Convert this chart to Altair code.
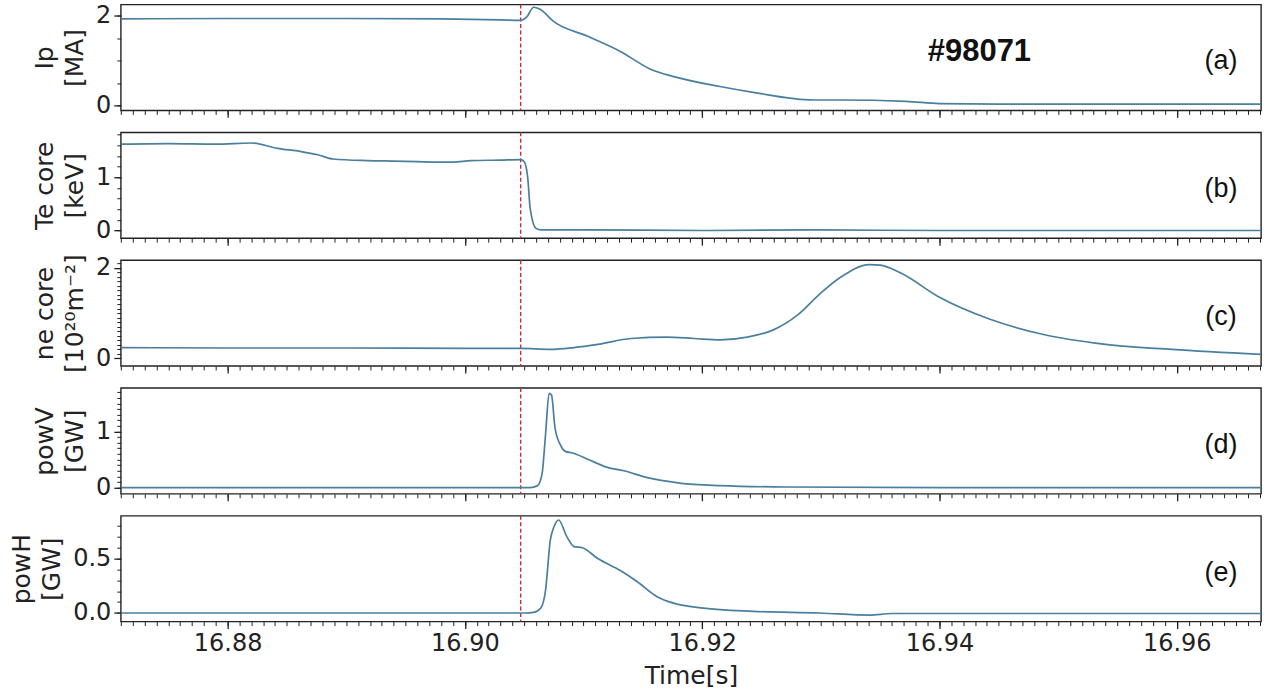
import altair as alt
import pandas as pd

# ---------------- data ----------------
t_domain = [16.871, 16.9671]
disruption_t = [16.9047]

x_major = [16.88, 16.90, 16.92, 16.94, 16.96]
x_minor = [round(16.871 + 0.001 * i, 3) for i in range(97)]

# (a) plasma current Ip [MA]
ip_t = [16.871, 16.880, 16.890, 16.898, 16.903, 16.9047, 16.9052, 16.9058, 16.9063,
        16.9075, 16.9103, 16.9131, 16.9156, 16.9176, 16.9215, 16.9243, 16.9294,
        16.9316, 16.9372, 16.9400, 16.9450, 16.9550, 16.9671]
ip_v = [1.93, 1.94, 1.94, 1.93, 1.91, 1.90, 1.97, 2.19, 2.15,
        1.87, 1.55, 1.21, 0.82, 0.65, 0.43, 0.30, 0.13,
        0.13, 0.10, 0.05, 0.04, 0.04, 0.04]

# (b) core electron temperature Te [keV]
te_t = [16.871, 16.875, 16.879, 16.882, 16.8842, 16.8862, 16.8876, 16.8889, 16.8918,
        16.8940, 16.8960, 16.8990, 16.9005, 16.9030, 16.9047, 16.9050, 16.9053,
        16.9055, 16.9060, 16.9064, 16.9100, 16.9200, 16.9300, 16.9400, 16.9500,
        16.9600, 16.9671]
te_v = [1.62, 1.63, 1.62, 1.64, 1.54, 1.48, 1.42, 1.34, 1.31,
        1.30, 1.29, 1.28, 1.31, 1.32, 1.33, 1.29, 0.98,
        0.42, 0.04, 0.01, 0.01, 0.00, 0.01, 0.00, 0.00,
        0.00, 0.00]

# (c) core electron density ne [1e20 m^-2]
ne_t = [16.871, 16.880, 16.890, 16.900, 16.9047, 16.9072, 16.9092, 16.9112, 16.9140,
        16.9170, 16.9193, 16.9215, 16.9238, 16.9260, 16.9280, 16.9299, 16.9316,
        16.9341, 16.9350, 16.9367, 16.9400, 16.9442, 16.9484, 16.9540, 16.9596,
        16.9671]
ne_v = [0.24, 0.23, 0.23, 0.22, 0.22, 0.20, 0.24, 0.31, 0.44,
        0.47, 0.44, 0.41, 0.47, 0.63, 0.95, 1.42, 1.78,
        2.07, 2.06, 1.89, 1.35, 0.87, 0.55, 0.31, 0.20,
        0.09]

# (d) vertical radiated power powV [GW]
pv_t = [16.871, 16.890, 16.9055, 16.9061, 16.9065, 16.9068, 16.9071, 16.9073, 16.9076,
        16.9081, 16.9085, 16.9090, 16.9103, 16.9120, 16.9134, 16.9153, 16.9181,
        16.9215, 16.9271, 16.9400, 16.9671]
pv_v = [0.0, 0.0, 0.0, 0.03, 0.24, 0.95, 1.68, 1.65, 1.06,
        0.74, 0.64, 0.62, 0.51, 0.36, 0.30, 0.18, 0.08,
        0.035, 0.01, 0.0, 0.0]

# (e) horizontal radiated power powH [GW]
ph_t = [16.871, 16.890, 16.9050, 16.9058, 16.9064, 16.9068, 16.9072, 16.9075, 16.9079,
        16.9086, 16.9092, 16.9099, 16.9112, 16.9131, 16.9145, 16.9162, 16.9176,
        16.9201, 16.9243, 16.9299, 16.9341, 16.9360, 16.9450, 16.9671]
ph_v = [0.0, 0.0, 0.0, 0.005, 0.045, 0.21, 0.67, 0.79, 0.855,
        0.70, 0.61, 0.60, 0.50, 0.39, 0.29, 0.15, 0.09,
        0.045, 0.015, 0.0, -0.02, -0.005, -0.005, -0.005]

shot_label = ["#98071"]

# ---------------- styling ----------------
LINE = "#4a7f9e"
RED = "#c8283c"
AX = "#222222"
PANEL_W = 1142
PANEL_H = 106
FONT = "DejaVu Sans"


def panel(t, v, ydomain, ymajor, yminor, yfmt, ytitle, tag, bottom, shot=False):
    df = pd.DataFrame({"t": t, "v": v})
    xs = alt.Scale(domain=t_domain, nice=False, zero=False)
    ys = alt.Scale(domain=ydomain, nice=False, zero=False)

    x_axis_major = alt.Axis(
        values=x_major, format=".2f", labels=bottom, orient="bottom",
        title="Time[s]" if bottom else "", tickSize=7, tickWidth=1.3,
        tickColor=AX, domain=False, grid=False, labelFontSize=24,
        labelFont=FONT, labelColor=AX, labelPadding=3, titleFont=FONT,
        titleFontSize=25, titleFontWeight="normal", titleColor=AX,
        titlePadding=8,
    )
    x_axis_minor = alt.Axis(
        values=x_minor, labels=False, orient="bottom", title="", tickSize=4,
        tickWidth=1, tickColor=AX, domain=False, grid=False,
    )
    y_axis_major = alt.Axis(
        values=ymajor, format=yfmt, orient="left", title=ytitle, tickSize=7,
        tickWidth=1.3, tickColor=AX, domain=False, grid=False,
        labelFontSize=24, labelFont=FONT, labelColor=AX, labelPadding=3,
        titleFont=FONT, titleFontSize=25, titleFontWeight="normal",
        titleColor=AX, titlePadding=8, titleLineHeight=30,
    )
    y_axis_minor = alt.Axis(
        values=yminor, labels=False, orient="left", title="", tickSize=4,
        tickWidth=1, tickColor=AX, domain=False, grid=False,
    )

    line = alt.Chart(df).mark_line(
        color=LINE, strokeWidth=1.7, interpolate="monotone", clip=True
    ).encode(
        x=alt.X("t:Q", scale=xs, axis=x_axis_major),
        y=alt.Y("v:Q", scale=ys, axis=y_axis_major),
    )
    minor = alt.Chart(df).mark_line(opacity=0).encode(
        x=alt.X("t:Q", scale=xs, axis=x_axis_minor),
        y=alt.Y("v:Q", scale=ys, axis=y_axis_minor),
    )
    vline = alt.Chart(pd.DataFrame({"t": disruption_t})).mark_rule(
        color=RED, strokeDash=[4, 2.5], strokeWidth=1.4
    ).encode(x=alt.X("t:Q", scale=xs, axis=None))

    tag_text = alt.Chart(pd.DataFrame({"tag": [tag]})).mark_text(
        font="Liberation Sans", fontSize=27, color="#111", align="center",
        baseline="middle",
    ).encode(x=alt.value(1102), y=alt.value(57), text="tag:N")

    layers = [vline, minor, line, tag_text]
    if shot:
        layers.append(
            alt.Chart(pd.DataFrame({"s": shot_label})).mark_text(
                font="Liberation Sans", fontSize=31, fontWeight="bold",
                color="#111", align="center", baseline="middle",
            ).encode(x=alt.value(860), y=alt.value(48), text="s:N")
        )
    return alt.layer(*layers).resolve_axis(x="independent", y="independent").properties(
        width=PANEL_W, height=PANEL_H
    )


def rng(a, b, step, n):
    return [round(a + step * i, 2) for i in range(n)]


pa = panel(ip_t, ip_v, [-0.1, 2.25], [0, 2], rng(0, 0, 0.5, 5), "d",
           ["Ip", "[MA]"], "(a)", False, shot=True)
pb = panel(te_t, te_v, [-0.144, 1.84], [0, 1], rng(0, 0, 0.2, 10), "d",
           ["Te core", "[keV]"], "(b)", False)
pc = panel(ne_t, ne_v, [-0.167, 2.17], [0, 2], rng(0, 0, 0.1, 22), "d",
           ["ne core", "[10²⁰m⁻²]"], "(c)", False)
pd_ = panel(pv_t, pv_v, [-0.111, 1.776], [0, 1], rng(0, 0, 0.1, 18), "d",
            ["powV", "[GW]"], "(d)", False)
pe = panel(ph_t, ph_v, [-0.079, 0.894], [0.0, 0.5], rng(0, 0, 0.1, 9), ".1f",
           ["powH", "[GW]"], "(e)", True)

chart = alt.vconcat(pa, pb, pc, pd_, pe, spacing=22, bounds="flush").properties(
    padding={"left": 9, "top": 2, "right": 4, "bottom": 4},
    background="white",
).configure_view(stroke=AX, strokeWidth=1.4)

chart.save("out.html", embed_options={"renderer": "svg", "actions": False})
